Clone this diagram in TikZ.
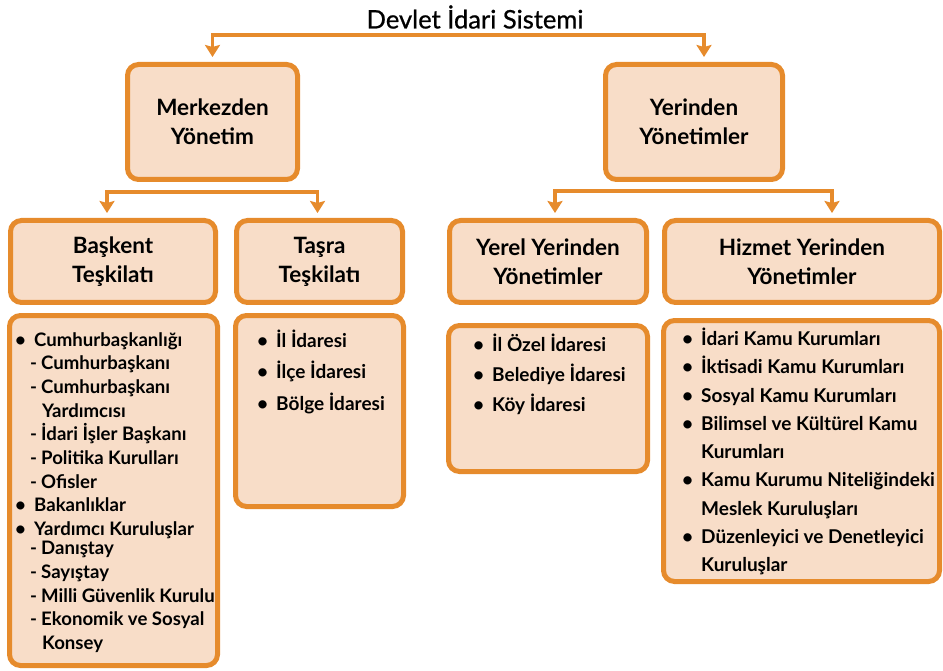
\documentclass[tikz,border=0pt]{standalone}
\usepackage{fontspec}
\setmainfont{Lato}
\newfontfamily\titlefont{Lato}[FakeBold=0.8]
\usetikzlibrary{arrows.meta,positioning}

\definecolor{chartorange}{RGB}{230,139,44}
\definecolor{chartpeach}{RGB}{248,221,200}

\newcommand{\bul}{\makebox[19pt][l]{\textbullet}}
\newcommand{\subitm}{\hspace{15pt}\makebox[11pt][l]{-}}
\newcommand{\cont}[1][19pt]{\hspace{#1}}

\tikzset{
  box/.style={draw=chartorange, fill=chartpeach, line width=5pt, rounded corners=11pt,
    align=center, inner sep=0pt, font=\fontsize{22.5}{29}\selectfont\bfseries},
  items/.style={anchor=north west, align=left, inner sep=0pt,
    font=\fontsize{19}{23.5}\selectfont\bfseries},
  link/.style={draw=chartorange, line width=3.5pt,
    -{Stealth[length=12pt,width=15pt,inset=2pt]}, shorten >=5pt}
}

\begin{document}
\begin{tikzpicture}[x=1pt,y=-1pt]
  \useasboundingbox (0,0) rectangle (943,671);

  % title
  \node[font=\fontsize{25.5}{25.5}\selectfont\titlefont] (title) at (475,17) {Devlet İdari Sistemi};

  % upper level
  \node[box, minimum width=170pt, minimum height=115pt] (merkez) at (212.5,122) {Merkezden\\Yönetim};
  \node[box, minimum width=177pt, minimum height=115pt] (yerinden) at (694,122) {Yerinden\\Yönetimler};

  % second level
  \node[box, minimum width=205pt, minimum height=82pt] (baskent) at (113,261.5) {Başkent\\Teşkilatı};
  \node[box, minimum width=166pt, minimum height=82pt] (tasra) at (319.5,261.5) {Taşra\\Teşkilatı};
  \node[box, minimum width=197pt, minimum height=82pt] (yerel) at (548,261.5) {Yerel Yerinden\\Yönetimler};
  \node[box, minimum width=275pt, minimum height=82pt] (hizmet) at (802,261.5) {Hizmet Yerinden\\Yönetimler};

  % list boxes
  \node[box, minimum width=208pt, minimum height=350pt] (baskentList) at (113.5,490.5) {};
  \node[box, minimum width=168pt, minimum height=191pt] (tasraList) at (319.5,411) {};
  \node[box, minimum width=199pt, minimum height=146pt] (yerelList) at (548,398.5) {};
  \node[box, minimum width=276pt, minimum height=261pt] (hizmetList) at (801.5,451) {};

  \node[items, font=\fontsize{18.6}{23.7}\selectfont\bfseries] (baskentItems)
    at ([xshift=8pt,yshift=-19pt]baskentList.north west)
    {\bul Cumhurbaşkanlığı\\
     \subitm Cumhurbaşkanı\\
     \subitm Cumhurbaşkanı\\
     \cont[27pt]Yardımcısı\\
     \subitm İdari İşler Başkanı\\
     \subitm Politika Kurulları\\
     \subitm Ofisler\\
     \bul Bakanlıklar\\
     \bul Yardımcı Kuruluşlar\\[-4.5pt]
     \subitm Danıştay\\
     \subitm Sayıştay\\
     \subitm Milli Güvenlik Kurulu\\
     \subitm Ekonomik ve Sosyal\\
     \cont[27pt]Konsey};
  \node[items, font=\fontsize{19}{31.5}\selectfont\bfseries] (tasraItems)
    at ([xshift=24pt,yshift=-16.5pt]tasraList.north west)
    {\bul İl İdaresi\\ \bul İlçe İdaresi\\ \bul Bölge İdaresi};
  \node[items, font=\fontsize{19}{30}\selectfont\bfseries] (yerelItems)
    at ([xshift=27pt,yshift=-11pt]yerelList.north west)
    {\bul İl Özel İdaresi\\ \bul Belediye İdaresi\\ \bul Köy İdaresi};
  \node[items, font=\fontsize{19}{28.25}\selectfont\bfseries] (hizmetItems)
    at ([xshift=21pt,yshift=-10pt]hizmetList.north west)
    {\bul İdari Kamu Kurumları\\
     \bul İktisadi Kamu Kurumları\\
     \bul Sosyal Kamu Kurumları\\
     \bul Bilimsel ve Kültürel Kamu\\
     \cont Kurumları\\
     \bul Kamu Kurumu Niteliğindeki\\
     \cont Meslek Kuruluşları\\
     \bul Düzenleyici ve Denetleyici\\
     \cont Kuruluşlar};

  % connectors
  \coordinate (topbar) at (475,35);
  \draw[link] (topbar) -| (merkez.north);
  \draw[link] (topbar) -| ([xshift=10pt]yerinden.north);
  \coordinate (leftbar) at (merkez.south |- 0,192);
  \draw[link] (leftbar) -| ([xshift=-6pt]baskent.north);
  \draw[link] (leftbar) -| ([xshift=-2pt]tasra.north);
  \coordinate (rightbar) at (yerinden.south |- 0,191);
  \draw[link] (rightbar) -| ([xshift=7pt]yerel.north);
  \draw[link] (rightbar) -| ([xshift=30pt]hizmet.north);
\end{tikzpicture}
\end{document}
